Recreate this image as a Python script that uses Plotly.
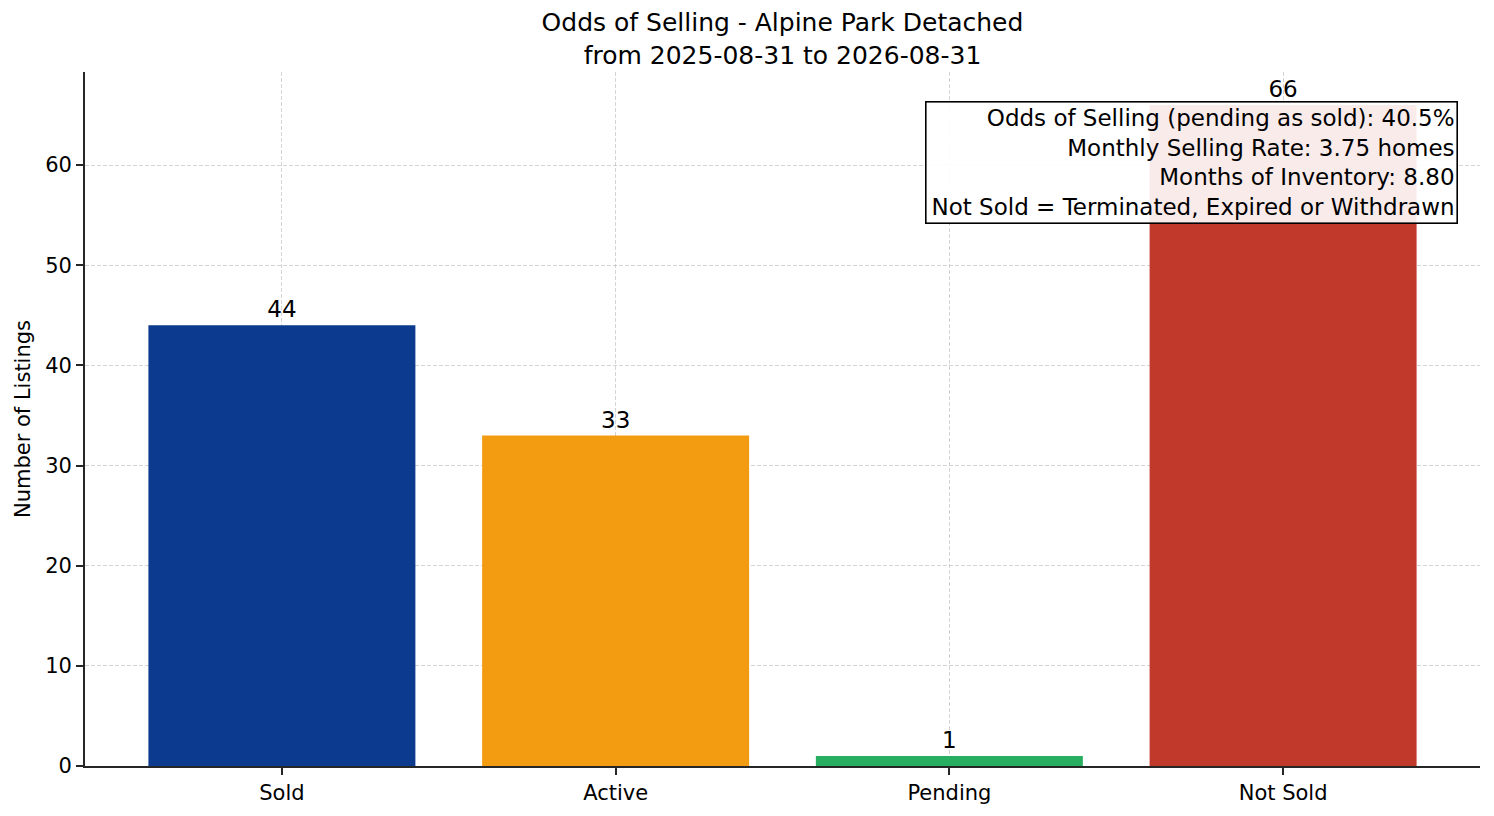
import plotly.graph_objects as go

# data
statuses = ["Sold", "Active", "Pending", "Not Sold"]
counts = [44, 33, 1, 66]
bar_colors = ["#0b3a8e", "#f39c12", "#27ae60", "#c0392b"]

area = "Alpine Park Detached"
date_from = "2025-08-31"
date_to = "2026-08-31"

odds_pct = 40.5
monthly_rate = 3.75
months_inventory = 8.80

FONT = "DejaVu Sans"
INK = "#262626"
GRID = "rgba(170,170,170,0.5)"

fig = go.Figure()

fig.add_trace(go.Bar(
    x=statuses,
    y=counts,
    marker=dict(color=bar_colors, line=dict(width=0)),
    text=[str(c) for c in counts],
    textposition="outside",
    textfont=dict(family=FONT, size=23, color="black"),
    constraintext="none",
    cliponaxis=False,
    width=0.8,
    showlegend=False,
    hoverinfo="x+y",
))

info = (
    f"Odds of Selling (pending as sold): {odds_pct:.1f}%<br>"
    f"Monthly Selling Rate: {monthly_rate:.2f} homes<br>"
    f"Months of Inventory: {months_inventory:.2f}<br>"
    "Not Sold = Terminated, Expired or Withdrawn"
)

fig.add_annotation(
    text=info,
    xref="paper", yref="paper",
    x=0.9845, y=0.958,
    xanchor="right", yanchor="top",
    align="right",
    width=526,
    showarrow=False,
    font=dict(family=FONT, size=23, color="black"),
    bgcolor="rgba(255,255,255,0.9)",
    bordercolor="black",
    borderwidth=1.6,
    borderpad=2,
)

fig.update_layout(
    width=1494, height=816,
    margin=dict(l=85, r=14, t=72, b=50),
    paper_bgcolor="white",
    plot_bgcolor="white",
    font=dict(family=FONT, size=21, color="black"),
    title=dict(
        text=f"Odds of Selling - {area}<br>from {date_from} to {date_to}",
        x=0.5, xref="paper", xanchor="center",
        y=0.962, yref="container", yanchor="top",
        font=dict(family=FONT, size=25, color="black"),
    ),
    bargap=0.2,
)

fig.update_xaxes(
    type="category",
    range=[-0.59, 3.59],
    showline=True, linecolor=INK, linewidth=1.7,
    ticks="outside", ticklen=7, tickwidth=1.7, tickcolor=INK,
    showgrid=True, gridcolor=GRID, gridwidth=0.8, griddash="4px,2px",
    tickfont=dict(family=FONT, size=21, color="black"),
    layer="above traces",
    zeroline=False,
)

fig.update_yaxes(
    range=[0, 69.3],
    dtick=10,
    showline=True, linecolor=INK, linewidth=1.7,
    ticks="outside", ticklen=7, tickwidth=1.7, tickcolor=INK,
    showgrid=True, gridcolor=GRID, gridwidth=0.8, griddash="4px,2px",
    tickfont=dict(family=FONT, size=21, color="black"),
    title=dict(text="Number of Listings", standoff=9,
               font=dict(family=FONT, size=21, color="black")),
    layer="above traces",
    zeroline=False,
)

# drop the browser's default body margin so the figure fills the window exactly
fig.write_html(
    "out.html",
    config={"displayModeBar": False},
    post_script="document.body.style.margin='0px';",
)
